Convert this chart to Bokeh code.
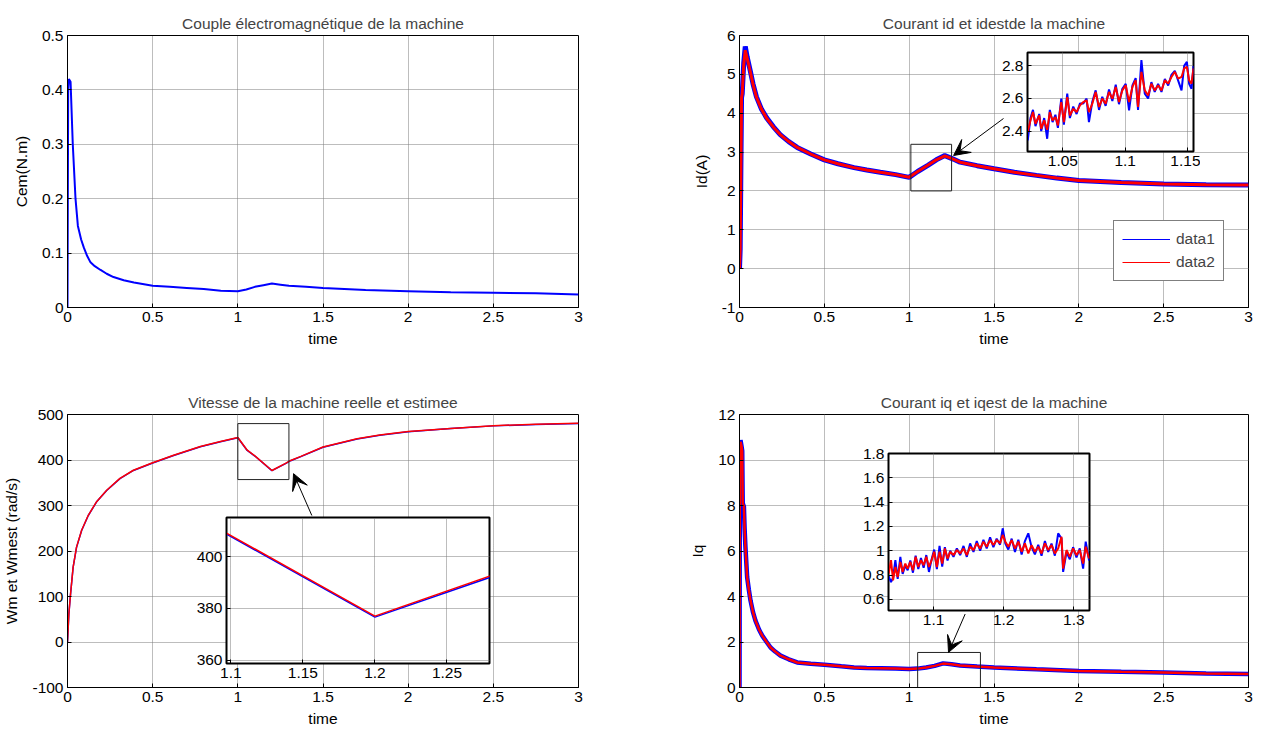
from bokeh.plotting import figure
from bokeh.models import (GridBox, FixedTicker, CustomJSTickFormatter,
                          Legend, LegendItem, Arrow, VeeHead, Range1d)
from bokeh.embed import file_html
from bokeh.resources import INLINE

FONT = "Liberation Sans"
FS = "15.5px"
BLUE = "#0000ff"
RED = "#ff0000"

# ---------------- data ----------------
# Couple electromagnetique
cem_t = [0, 0.004, 0.008, 0.018, 0.031, 0.047, 0.061, 0.08, 0.096, 0.115, 0.135, 0.16, 0.194,
         0.23, 0.27, 0.33, 0.39, 0.5, 0.6, 0.7, 0.8, 0.9, 1.0, 1.05, 1.1, 1.15, 1.2, 1.25, 1.3,
         1.4, 1.5, 1.75, 2.0, 2.25, 2.5, 2.75, 3.0]
cem = [0, 0.40, 0.42, 0.415, 0.30, 0.20, 0.15, 0.125, 0.11, 0.095, 0.083, 0.076, 0.069,
       0.062, 0.056, 0.050, 0.046, 0.040, 0.038, 0.036, 0.034, 0.031, 0.030, 0.033, 0.038, 0.041,
       0.044, 0.042, 0.040, 0.038, 0.036, 0.032, 0.030, 0.028, 0.027, 0.026, 0.024]

# Courant id (data1) et idest (data2)
id_t = [0, 0.004, 0.008, 0.012, 0.016, 0.025, 0.034, 0.045, 0.063, 0.08, 0.1, 0.13, 0.16, 0.2,
        0.24, 0.29, 0.34, 0.42, 0.5, 0.58, 0.675, 0.75, 0.83, 0.92, 1.0, 1.05, 1.11, 1.16, 1.21,
        1.26, 1.3, 1.4, 1.5, 1.62, 1.75, 1.87, 2.0, 2.25, 2.5, 2.75, 3.0]
id_meas = [0, 0.5, 2.5, 4.4, 4.5, 5.3, 5.72, 5.45, 5.1, 4.75, 4.42, 4.1, 3.88, 3.65,
           3.45, 3.27, 3.12, 2.95, 2.80, 2.70, 2.60, 2.54, 2.48, 2.42, 2.35, 2.50, 2.66, 2.80, 2.91,
           2.82, 2.74, 2.65, 2.57, 2.48, 2.40, 2.33, 2.27, 2.22, 2.18, 2.16, 2.15]
id_est = [0, 0.5, 2.5, 4.4, 4.5, 5.25, 5.62, 5.42, 5.08, 4.74, 4.41, 4.1, 3.87, 3.64,
          3.45, 3.27, 3.12, 2.95, 2.80, 2.70, 2.60, 2.54, 2.48, 2.42, 2.35, 2.50, 2.66, 2.80, 2.90,
          2.82, 2.74, 2.65, 2.57, 2.48, 2.40, 2.33, 2.27, 2.22, 2.18, 2.16, 2.15]

idz_t = [1.0218, 1.024, 1.026, 1.028, 1.031, 1.0326, 1.035, 1.0374, 1.0395, 1.0417, 1.044, 1.046,
         1.0487, 1.0508, 1.0535, 1.0556, 1.0583, 1.061, 1.0637, 1.0664, 1.069, 1.0709, 1.0736,
         1.0763, 1.079, 1.0816, 1.0843, 1.087, 1.0897, 1.0924, 1.095, 1.0977, 1.1004, 1.1031,
         1.1058, 1.1084, 1.1103, 1.113, 1.1157, 1.1184, 1.121, 1.1237, 1.1264, 1.1291, 1.1318,
         1.1345, 1.1371, 1.1398, 1.1425, 1.1452, 1.1473, 1.1495, 1.1513, 1.1532, 1.1548]
idz_meas = [2.343, 2.480, 2.530, 2.430, 2.505, 2.400, 2.480, 2.353, 2.530, 2.455, 2.500, 2.420,
            2.600, 2.440, 2.630, 2.480, 2.550, 2.505, 2.570, 2.570, 2.600, 2.455, 2.580, 2.650,
            2.530, 2.610, 2.555, 2.655, 2.585, 2.685, 2.565, 2.660, 2.690, 2.527, 2.680, 2.725,
            2.530, 2.835, 2.630, 2.600, 2.700, 2.640, 2.690, 2.640, 2.720, 2.680, 2.745, 2.770,
            2.710, 2.650, 2.800, 2.825, 2.690, 2.660, 2.800]
idz_est = [2.394, 2.466, 2.517, 2.445, 2.496, 2.414, 2.466, 2.408, 2.517, 2.466, 2.486, 2.435,
           2.578, 2.455, 2.609, 2.496, 2.537, 2.517, 2.558, 2.578, 2.589, 2.517, 2.568, 2.640,
           2.548, 2.599, 2.568, 2.640, 2.599, 2.671, 2.578, 2.650, 2.681, 2.578, 2.671, 2.712,
           2.548, 2.763, 2.650, 2.619, 2.691, 2.650, 2.681, 2.650, 2.712, 2.691, 2.732, 2.763,
           2.722, 2.732, 2.784, 2.794, 2.712, 2.691, 2.784]

# Vitesse reelle (Wm) et estimee (Wmest)
wm_t = [0, 0.008, 0.018, 0.033, 0.053, 0.083, 0.122, 0.171, 0.23, 0.308, 0.387, 0.5, 0.623,
        0.78, 0.898, 1.0, 1.055, 1.1, 1.2, 1.28, 1.31, 1.37, 1.5, 1.7, 1.833, 2.0, 2.25, 2.5,
        2.75, 3.0]
wm = [0, 61.6, 105.6, 164, 208, 245, 278, 308, 333, 359, 377, 393.5, 410, 429, 440, 449, 421,
      408.7, 376.6, 392.0, 398.5, 407.5, 428, 446, 454.5, 462, 469, 475, 478, 480]
wm_est = [0, 62.0, 106.0, 164.5, 208.5, 245.5, 278.5, 308.5, 333.5, 359.5, 377.5, 394, 410.5,
          429.5, 440.5, 449.5, 421.5, 409.0, 377.0, 392.5, 399, 408, 428.5, 446.5, 455, 462.5,
          469.5, 475.5, 478.5, 480.5]
wmz_t = [1.097, 1.2, 1.28]
wmz = [408.7, 376.6, 392.0]
wmz_est = [409.1, 377.0, 392.5]

# Courant iq (data1) et iqest (data2)
iq_t = [0, 0.002, 0.006, 0.012, 0.016, 0.019, 0.026, 0.03, 0.035, 0.045, 0.055, 0.065, 0.08,
        0.094, 0.115, 0.134, 0.16, 0.183, 0.21, 0.242, 0.29, 0.34, 0.42, 0.5, 0.6, 0.675, 0.75,
        0.833, 0.92, 1.0, 1.05, 1.1, 1.15, 1.2, 1.25, 1.3, 1.4, 1.5, 1.75, 2.0, 2.25, 2.5, 2.75,
        3.0]
iq_meas = [0, 10.0, 10.87, 10.6, 10.4, 8.1, 7.95, 7.0, 6.17, 4.85, 4.3, 3.82, 3.3, 2.94, 2.55,
           2.28, 2.0, 1.76, 1.58, 1.40, 1.24, 1.10, 1.04, 1.0, 0.93, 0.88, 0.86, 0.85, 0.83, 0.81,
           0.83, 0.88, 0.95, 1.06, 1.02, 0.97, 0.92, 0.88, 0.80, 0.73, 0.69, 0.66, 0.62, 0.59]
iq_est = [0, 10.0, 10.8, 10.6, 10.4, 8.1, 7.95, 7.0, 6.17, 4.85, 4.3, 3.82, 3.3, 2.94, 2.55,
          2.28, 2.0, 1.76, 1.58, 1.40, 1.24, 1.10, 1.04, 1.0, 0.93, 0.88, 0.86, 0.85, 0.83, 0.81,
          0.83, 0.88, 0.95, 1.05, 1.02, 0.97, 0.92, 0.88, 0.80, 0.73, 0.69, 0.66, 0.62, 0.59]

iqz_t = [1.036, 1.0393, 1.0422, 1.0455, 1.0488, 1.0526, 1.0559, 1.0597, 1.063, 1.0668,
         1.0706, 1.0744, 1.0782, 1.082, 1.0858, 1.0896, 1.0934, 1.0972, 1.1009, 1.1047,
         1.1085, 1.1123, 1.1161, 1.1199, 1.1237, 1.1284, 1.1332, 1.1379, 1.1427, 1.1474,
         1.1521, 1.1569, 1.1616, 1.1664, 1.1711, 1.1758, 1.1806, 1.1853, 1.19, 1.1948,
         1.1986, 1.2024, 1.2066, 1.2114, 1.2161, 1.2209, 1.2256, 1.2303, 1.2351, 1.2398,
         1.2445, 1.2493, 1.254, 1.2588, 1.2635, 1.2682, 1.273, 1.2777, 1.2825, 1.2848,
         1.2896, 1.2943, 1.299, 1.3038, 1.3085, 1.3133, 1.317, 1.3218]
iqz_meas = [0.790, 0.743, 0.780, 0.923, 0.770, 0.950, 0.810, 0.880, 0.840, 0.920,
            0.820, 0.960, 0.850, 0.940, 0.860, 0.965, 0.826, 0.930, 1.010, 0.850,
            1.040, 0.870, 1.030, 0.920, 1.000, 0.950, 1.020, 0.965, 1.040, 0.950,
            1.060, 0.990, 1.080, 1.000, 1.090, 1.020, 1.110, 1.030, 1.100, 1.050,
            1.185, 1.060, 1.010, 1.100, 0.990, 1.090, 0.970, 1.080, 1.144, 1.030,
            0.970, 1.050, 0.960, 1.080, 0.990, 1.060, 0.960, 1.144, 1.100, 0.826,
            0.990, 0.930, 1.030, 0.945, 1.020, 0.853, 1.075, 0.920]
iqz_est = [0.812, 0.923, 0.757, 0.867, 0.784, 0.909, 0.826, 0.895, 0.853, 0.909,
           0.840, 0.950, 0.867, 0.923, 0.881, 0.950, 0.867, 0.923, 0.992, 0.867,
           0.992, 0.895, 1.019, 0.936, 0.992, 0.964, 1.006, 0.978, 1.019, 0.964,
           1.033, 1.006, 1.061, 1.019, 1.075, 1.033, 1.088, 1.047, 1.088, 1.061,
           1.130, 1.075, 1.033, 1.088, 1.019, 1.075, 0.992, 1.061, 0.978, 1.047,
           0.992, 1.033, 0.978, 1.061, 1.006, 1.047, 0.978, 1.019, 1.116, 0.853,
           1.006, 0.950, 1.019, 0.964, 1.006, 0.895, 1.033, 0.936]

# tick values
t_ticks = [0, 0.5, 1, 1.5, 2, 2.5, 3]
cem_ticks = [0, 0.1, 0.2, 0.3, 0.4, 0.5]
id_ticks = [-1, 0, 1, 2, 3, 4, 5, 6]
wm_ticks = [-100, 0, 100, 200, 300, 400, 500]
iq_ticks = [0, 2, 4, 6, 8, 10, 12]
idz_xticks = [1.05, 1.1, 1.15]
idz_yticks = [2.4, 2.6, 2.8]
wmz_xticks = [1.1, 1.15, 1.2, 1.25]
wmz_yticks = [360, 380, 400]
iqz_xticks = [1.1, 1.2, 1.3]
iqz_yticks = [0.6, 0.8, 1.0, 1.2, 1.4, 1.6, 1.8]

# zoom rectangles (left, right, bottom, top) and arrows (x_start, y_start, x_end, y_end)
id_box = (1.01, 1.25, 2.0, 3.2)
wm_box = (1.0, 1.3, 357, 480)
iq_box = (1.05, 1.42, -0.1, 1.54)
id_arrow = (1.556, 3.864, 1.262, 2.912)
wm_arrow = (1.4345, 278.0, 1.327, 370.0)
iq_arrow = (1.330, 3.23, 1.232, 1.545)

# ---------------- layout geometry (page pixels) ----------------
# box = (x0, y0, x1, y1) of the figure; frame = (left, top, width, height)
L = {
    "tl": ((0, 0, 660, 370), (67, 35, 511, 272)),
    "tr": ((660, 0, 1261, 370), (739, 35, 509, 272)),
    "bl": ((0, 370, 660, 731), (67, 414, 511, 273)),
    "br": ((660, 370, 1261, 731), (739, 414, 509, 273)),
    "tri": ((985, 45, 1200, 180), (1027, 52, 166, 99)),
    "bli": ((180, 510, 496, 690), (226, 517, 263, 146)),
    "bri": ((845, 446, 1096, 637), (888, 453, 201, 157)),
}

fmt = CustomJSTickFormatter(code="return String(parseFloat(tick.toFixed(4)));")


def style_axis(ax, ticks, label=None, label_standoff=6):
    ax.ticker = FixedTicker(ticks=ticks)
    ax.formatter = fmt
    ax.major_label_text_font = FONT
    ax.major_label_text_font_size = FS
    ax.major_label_text_color = "black"
    ax.major_tick_in = 4
    ax.major_tick_out = 0
    ax.major_tick_line_color = "black"
    ax.minor_tick_line_color = None
    ax.axis_line_color = "black"
    ax.major_label_standoff = 4
    if label:
        ax.axis_label = label
        ax.axis_label_text_font = FONT
        ax.axis_label_text_font_size = FS
        ax.axis_label_text_font_style = "normal"
        ax.axis_label_text_color = "black"
        ax.axis_label_standoff = label_standoff


def make_fig(key, xr, yr, xt, yt, title=None, xlabel=None, ylabel=None, inset=False):
    (x0, y0, x1, y1), (fl, ft, fw, fh) = L[key]
    p = figure(width=x1 - x0, height=y1 - y0, x_range=Range1d(*xr), y_range=Range1d(*yr),
               output_backend="svg", toolbar_location=None,
               min_border_left=fl - x0, min_border_top=ft - y0,
               min_border_right=x1 - fl - fw, min_border_bottom=y1 - ft - fh)
    style_axis(p.xaxis[0], xt, xlabel, 5)
    style_axis(p.yaxis[0], yt, ylabel, 9)
    for g in (p.xgrid[0], p.ygrid[0]):
        g.grid_line_color = "#7a7a7a"
        g.grid_line_dash = "1 1"
        g.grid_line_width = 1
    p.outline_line_color = "black"
    p.outline_line_alpha = 1
    p.outline_line_width = 2 if inset else 1
    p.background_fill_color = "white"
    p.border_fill_color = None if inset else "white"
    if title:
        p.title.text = title
        p.title.text_font = FONT
        p.title.text_font_size = FS
        p.title.text_font_style = "normal"
        p.title.align = "center"
        p.title.standoff = 8
    return p


def add_box(p, box):
    p.quad(left=[box[0]], right=[box[1]], bottom=[box[2]], top=[box[3]],
           fill_color=None, line_color="#222222", line_width=1)


def add_arrow(p, a):
    p.add_layout(Arrow(end=VeeHead(size=16, fill_color="black", line_color="black", line_width=1),
                       x_start=a[0], y_start=a[1], x_end=a[2], y_end=a[3],
                       line_color="black", line_width=1))


# ---- top-left
p_tl = make_fig("tl", (0, 3), (0, 0.5), t_ticks, cem_ticks,
                "Couple électromagnétique de la machine", "time", "Cem(N.m)")
p_tl.line(cem_t, cem, color=BLUE, line_width=2)

# ---- top-right
p_tr = make_fig("tr", (0, 3), (-1, 6), t_ticks, id_ticks,
                "Courant id et idestde la machine", "time", "Id(A)")
leg1 = p_tr.line(id_t, id_meas, color=BLUE, line_width=1)
leg2 = p_tr.line(id_t, id_est, color=RED, line_width=1)
p_tr.line(id_t, id_meas, color=BLUE, line_width=5)
p_tr.line(id_t, id_est, color=RED, line_width=3)
add_box(p_tr, id_box)
add_arrow(p_tr, id_arrow)
legend = Legend(items=[LegendItem(label="data1", renderers=[leg1]),
                       LegendItem(label="data2", renderers=[leg2])],
                location=(374, 26), label_text_font=FONT, label_text_font_size=FS,
                glyph_width=48, glyph_height=20, label_height=20, label_standoff=6,
                spacing=3, padding=8, margin=0, border_line_color="black",
                border_line_width=1, background_fill_color="white", background_fill_alpha=1)
p_tr.add_layout(legend)

# ---- bottom-left
p_bl = make_fig("bl", (0, 3), (-100, 500), t_ticks, wm_ticks,
                "Vitesse de la machine reelle et estimee", "time", "Wm et Wmest (rad/s)")
p_bl.line(wm_t, wm, color=BLUE, line_width=1.5)
p_bl.line(wm_t, wm_est, color=RED, line_width=1.5)
add_box(p_bl, wm_box)
add_arrow(p_bl, wm_arrow)

# ---- bottom-right
p_br = make_fig("br", (0, 3), (0, 12), t_ticks, iq_ticks,
                "Courant iq et iqest de la machine", "time", "Iq")
p_br.line(iq_t, iq_meas, color=BLUE, line_width=4.5)
p_br.line(iq_t, iq_est, color=RED, line_width=2.5)
add_box(p_br, iq_box)
add_arrow(p_br, iq_arrow)

# ---- insets
i_tr = make_fig("tri", (1.0216, 1.1548), (2.275, 2.882), idz_xticks, idz_yticks, inset=True)
i_tr.line(idz_t, idz_meas, color=BLUE, line_width=2)
i_tr.line(idz_t, idz_est, color=RED, line_width=2)

i_bl = make_fig("bli", (1.097, 1.2795), (358.7, 415.1), wmz_xticks, wmz_yticks, inset=True)
i_bl.line(wmz_t, wmz, color=BLUE, line_width=1.5)
i_bl.line(wmz_t, wmz_est, color=RED, line_width=1.5)

i_br = make_fig("bri", (1.0357, 1.3224), (0.509, 1.8), iqz_xticks, iqz_yticks, inset=True)
i_br.line(iqz_t, iqz_meas, color=BLUE, line_width=2)
i_br.line(iqz_t, iqz_est, color=RED, line_width=2)

# ---------------- grid with overlapping cells ----------------
figs = [("tl", p_tl), ("tr", p_tr), ("bl", p_bl), ("br", p_br),
        ("tri", i_tr), ("bli", i_bl), ("bri", i_br)]
xs = sorted({v for k in L for v in (L[k][0][0], L[k][0][2])})
ys = sorted({v for k in L for v in (L[k][0][1], L[k][0][3])})
cols = [f"{b - a}px" for a, b in zip(xs[:-1], xs[1:])]
rows = [f"{b - a}px" for a, b in zip(ys[:-1], ys[1:])]
children = []
for k, f in figs:
    x0, y0, x1, y1 = L[k][0]
    r0, c0 = ys.index(y0), xs.index(x0)
    children.append((f, r0, c0, ys.index(y1) - r0, xs.index(x1) - c0))

grid = GridBox(children=children, rows=rows, cols=cols, spacing=0)

open("out.html", "w").write(file_html(grid, INLINE))
